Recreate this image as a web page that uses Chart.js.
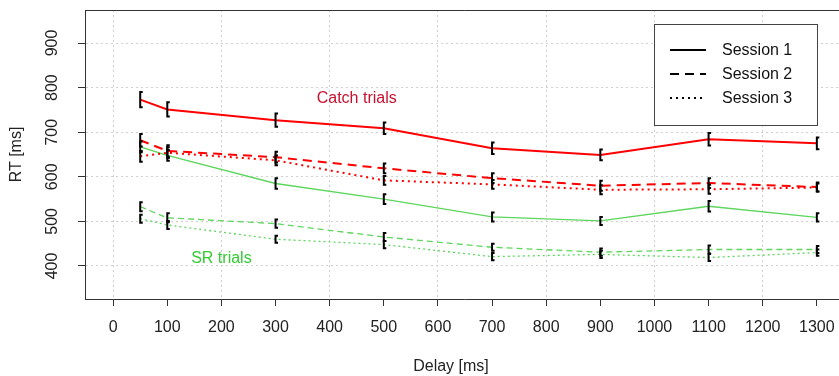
<!DOCTYPE html>
<html>
<head>
<meta charset="utf-8">
<script src="https://cdn.jsdelivr.net/npm/chart.js@4/dist/chart.umd.min.js"></script>
<style>
html,body{margin:0;padding:0;background:#fff;overflow:hidden;width:839px;height:376px;}
canvas{display:block;}
</style>
</head>
<body>
<canvas id="c" width="846" height="376"></canvas>
<script>
// ---- data ----
const delays = [50, 100, 300, 500, 700, 900, 1100, 1300];
const catchS1 = [773, 751, 727, 709, 664, 649, 684, 675];
const catchS2 = [682, 658, 644, 619, 597, 580, 586, 577];
const catchS3 = [646, 654, 637, 592, 583, 571, 572, 576];
const srS1 = [667, 648, 585, 550, 510, 501, 534, 509];
const srS2 = [533, 508, 495, 465, 442, 431, 437, 437];
const srS3 = [506, 492, 460, 448, 421, 426, 419, 430];
const catchS1Err = [17, 16, 15, 13, 13, 12, 14, 13];
const catchS2Err = [14, 13, 12, 11, 11, 11, 11, 10];
const catchS3Err = [12, 12, 11, 10, 10, 10, 10, 9];
const srS1Err = [12, 12, 12, 11, 10, 9, 12, 9];
const srS2Err = [10, 10, 9, 9, 8, 8, 9, 8];
const srS3Err = [9, 9, 8, 8, 8, 8, 8, 7];
const xTicks = [0, 100, 200, 300, 400, 500, 600, 700, 800, 900, 1000, 1100, 1200, 1300];
const yTicks = [400, 500, 600, 700, 800, 900];
const legendLabels = ['Session 1', 'Session 2', 'Session 3'];
const groupLabels = ['Catch trials', 'SR trials'];
const xTitle = 'Delay [ms]';
const yTitle = 'RT [ms]';

const FONT = '"Liberation Sans", Arial, sans-serif';
const RED = '#FF0000';
const GREEN = '#5CD65C';
const dashes = [[], [9, 6], [2, 4]];
const greenDashes = [[], [6, 4], [2, 3]];

function pts(ys) { return delays.map((d, i) => ({x: d, y: ys[i]})); }

const series = [
  {label: 'Catch S1', data: catchS1, err: catchS1Err, color: RED, dash: dashes[0], w: 2},
  {label: 'Catch S2', data: catchS2, err: catchS2Err, color: RED, dash: dashes[1], w: 2},
  {label: 'Catch S3', data: catchS3, err: catchS3Err, color: RED, dash: dashes[2], w: 2},
  {label: 'SR S1', data: srS1, err: srS1Err, color: GREEN, dash: greenDashes[0], w: 1.3},
  {label: 'SR S2', data: srS2, err: srS2Err, color: GREEN, dash: greenDashes[1], w: 1.3},
  {label: 'SR S3', data: srS3, err: srS3Err, color: GREEN, dash: greenDashes[2], w: 1.3}
];

const errorBars = {
  id: 'errorBars',
  afterDatasetsDraw(chart) {
    const ctx = chart.ctx, xs = chart.scales.x, ys = chart.scales.y;
    ctx.save();
    ctx.strokeStyle = '#000';
    ctx.lineWidth = 2;
    ctx.setLineDash([]);
    series.forEach(s => {
      s.data.forEach((v, i) => {
        const px = xs.getPixelForValue(delays[i]);
        const y1 = ys.getPixelForValue(v + s.err[i]);
        const y2 = ys.getPixelForValue(v - s.err[i]);
        ctx.beginPath();
        ctx.moveTo(px + 2.5, y1); ctx.lineTo(px, y1); ctx.lineTo(px, y2); ctx.lineTo(px + 2.5, y2);
        ctx.stroke();
      });
    });
    ctx.restore();
  }
};

const decor = {
  id: 'decor',
  afterDraw(chart) {
    const ctx = chart.ctx, a = chart.chartArea, xs = chart.scales.x, ys = chart.scales.y;
    ctx.save();
    // box top/right
    ctx.strokeStyle = '#333'; ctx.lineWidth = 1; ctx.setLineDash([]);
    ctx.beginPath();
    ctx.moveTo(a.left, a.top + 0.5); ctx.lineTo(a.right - 0.5, a.top + 0.5); ctx.lineTo(a.right - 0.5, a.bottom);
    ctx.stroke();
    ctx.font = '16px ' + FONT;
    ctx.textAlign = 'center'; ctx.textBaseline = 'middle';
    // x axis title
    ctx.fillStyle = '#222';
    ctx.fillText(xTitle, 451, 367);
    // group labels
    ctx.fillStyle = '#C8102E';
    ctx.fillText(groupLabels[0], xs.getPixelForValue(450), ys.getPixelForValue(775));
    ctx.fillStyle = '#33CC33';
    ctx.fillText(groupLabels[1], xs.getPixelForValue(200), ys.getPixelForValue(417));
    // legend
    const lx = 654, ly = 24, lw = 163, lh = 101;
    ctx.fillStyle = '#fff';
    ctx.fillRect(lx, ly, lw, lh);
    ctx.strokeStyle = '#444';
    ctx.strokeRect(lx + 0.5, ly + 0.5, lw, lh);
    ctx.textAlign = 'left';
    legendLabels.forEach((t, i) => {
      const yy = 50 + i * 24;
      ctx.strokeStyle = '#000'; ctx.lineWidth = 2;
      ctx.setLineDash(dashes[i]);
      ctx.beginPath(); ctx.moveTo(670, yy); ctx.lineTo(706, yy); ctx.stroke();
      ctx.setLineDash([]);
      ctx.fillStyle = '#111';
      ctx.fillText(t, 722, yy + 1);
    });
    ctx.restore();
  }
};

new Chart(document.getElementById('c'), {
  type: 'line',
  data: {
    datasets: series.map(s => ({
      label: s.label,
      data: pts(s.data),
      borderColor: s.color,
      backgroundColor: s.color,
      borderWidth: s.w,
      borderDash: s.dash,
      pointRadius: 0,
      tension: 0,
      fill: false
    }))
  },
  options: {
    responsive: false,
    animation: false,
    devicePixelRatio: 1,
    layout: {padding: {top: 10, right: 1, left: 0, bottom: 0}},
    plugins: {legend: {display: false}, tooltip: {enabled: false}},
    scales: {
      x: {
        type: 'linear',
        min: -52, max: 1352,
        afterBuildTicks: s => { s.ticks = xTicks.map(v => ({value: v})); },
        afterFit: s => { s.height = 77; s.paddingLeft = 0; s.paddingRight = 0; },
        ticks: {
          callback: v => String(v),
          font: {family: FONT, size: 16},
          color: '#222',
          padding: 12,
          maxRotation: 0, minRotation: 0, autoSkip: false
        },
        grid: {
          color: c => (c.tick && c.tick.value % 200 === 0) ? '#CFCFCF' : 'rgba(0,0,0,0)',
          lineWidth: 1,
          drawTicks: true, tickLength: 7, tickColor: '#333', tickWidth: 1
        },
        border: {display: true, color: '#333', width: 1, dash: [2, 3]},
        title: {display: false}
      },
      y: {
        type: 'linear',
        min: 326, max: 974,
        afterBuildTicks: s => { s.ticks = yTicks.map(v => ({value: v})); },
        afterFit: s => { s.width = 85; s.paddingTop = 0; s.paddingBottom = 0; },
        ticks: {
          callback: v => String(v),
          font: {family: FONT, size: 16},
          color: '#222',
          padding: 12.5,
          crossAlign: 'center',
          minRotation: 90, maxRotation: 90
        },
        grid: {
          color: '#CFCFCF', lineWidth: 1,
          drawTicks: true, tickLength: 7, tickColor: '#333', tickWidth: 1
        },
        border: {display: true, color: '#333', width: 1, dash: [2, 3]},
        title: {display: true, text: yTitle, font: {family: FONT, size: 16}, color: '#222', padding: {top: 7, bottom: 0}}
      }
    }
  },
  plugins: [errorBars, decor]
});
</script>
</body>
</html>
